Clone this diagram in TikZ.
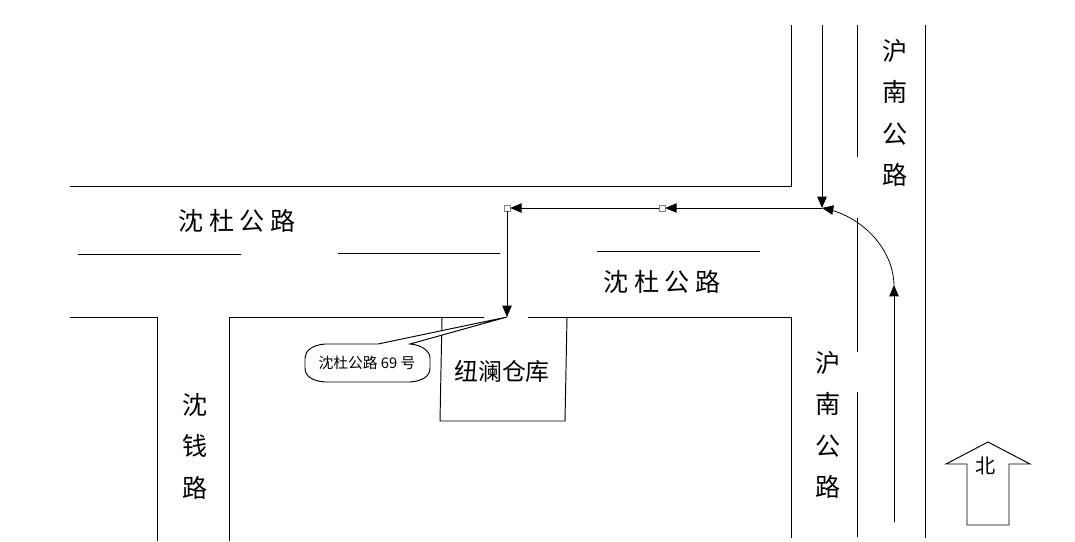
\documentclass[tikz,border=0pt]{standalone}
\usepackage{fontspec}
\usepackage{tikz}
\usetikzlibrary{arrows}
\usetikzlibrary{positioning}
\setmainfont{Noto Sans CJK SC}
\tikzset{road/.style = {draw, line width = 0.55pt}}
\tikzset{route/.style = {draw, line width = 0.45pt, -triangle 45}}
\tikzset{handle/.style = {draw = gray, fill = white, inner sep = 0, minimum size = 3.4pt, line width = 0.3pt}}
\tikzset{bigtext/.style = {inner sep = 0, font = \fontsize{14.3}{24}\selectfont}}
\tikzset{upright/.style = {inner sep = 0, align = center, font = \fontsize{14.3}{23.6}\selectfont}}

\begin{document}
\begin{tikzpicture}[x = 0.02cm, y = -0.02cm]
      \useasboundingbox (0, 0) rectangle (1075, 541);

      % roads
      \draw [road] (70, 186) -- (791.5, 186) -- (791.5, 25);
      \draw [road] (857, 25) -- (857, 157);
      \draw [road] (925, 25) -- (925, 538);
      \draw [road] (857, 218) -- (857, 352);
      \draw [road] (857, 392) -- (857, 537);
      \draw [road] (78, 254) -- (241, 254);
      \draw [road] (338, 253) -- (500, 253);
      \draw [road] (597, 251) -- (760, 251);
      \draw [road] (70, 317) -- (157, 317) -- (157, 541);
      \draw [road] (229.5, 541) -- (229.5, 317) -- (484, 317);
      \draw [road] (528, 317) -- (791.5, 317) -- (791.5, 538);

      % warehouse
      \draw [road] (442, 317) -- (440, 421) -- (565, 421) -- (567, 317);
      \node [inner sep = 0, font = \fontsize{13.6}{24}\selectfont] (wh) at (502, 371) {纽澜仓库};

      % route
      \coordinate (top) at (822, 25);
      \coordinate (start) at (894, 522);
      \coordinate (bend) at (894, 285);
      \coordinate (cross) at (822, 208);
      \coordinate (gate) at (507, 317);
      \node [handle] (h1) at (662, 208) {};
      \node [handle] (h2) at (507, 208) {};
      \draw [route] (top) -- (cross);
      \draw [route] (start) -- (bend);
      \draw [route] (bend) .. controls (893, 247) and (860, 215) .. (cross);
      \draw [route] (cross) -- (h1);
      \draw [route] (h1) -- (h2);
      \draw [route] (h2) -- (gate);

      % callout
      \draw [road, fill = white] (378, 344) -- (gate) -- (410, 344)
        .. controls (423, 345) and (430, 352) .. (430, 358)
        -- (430, 368) .. controls (430, 376) and (423, 381) .. (410, 382)
        -- (325, 382) .. controls (312, 381) and (305, 376) .. (305, 368)
        -- (305, 358) .. controls (305, 351) and (312, 345) .. (325, 344) -- cycle;
      \node [inner sep = 0, font = \fontsize{8.4}{10}\selectfont] (addr) at (367, 363) {沈杜公路 69 号};

      % road names
      \node [bigtext] (n1) at (237, 221) {沈 杜 公 路};
      \node [bigtext] (n2) at (662, 282) {沈 杜 公 路};
      \node [upright] (n3) at (895, 113) {沪\\南\\公\\路};
      \node [upright] (n4) at (828, 425) {沪\\南\\公\\路};
      \node [upright] (n5) at (195, 446) {沈\\钱\\路};

      % north arrow
      \draw [road] (967, 525) -- (967, 464) -- (946, 464) -- (988, 442) -- (1030, 464) -- (1009, 464) -- (1009, 525) -- cycle;
      \node [inner sep = 0, font = \fontsize{11.5}{12}\selectfont] (north) at (986, 466) {北};
    \end{tikzpicture}
\end{document}
